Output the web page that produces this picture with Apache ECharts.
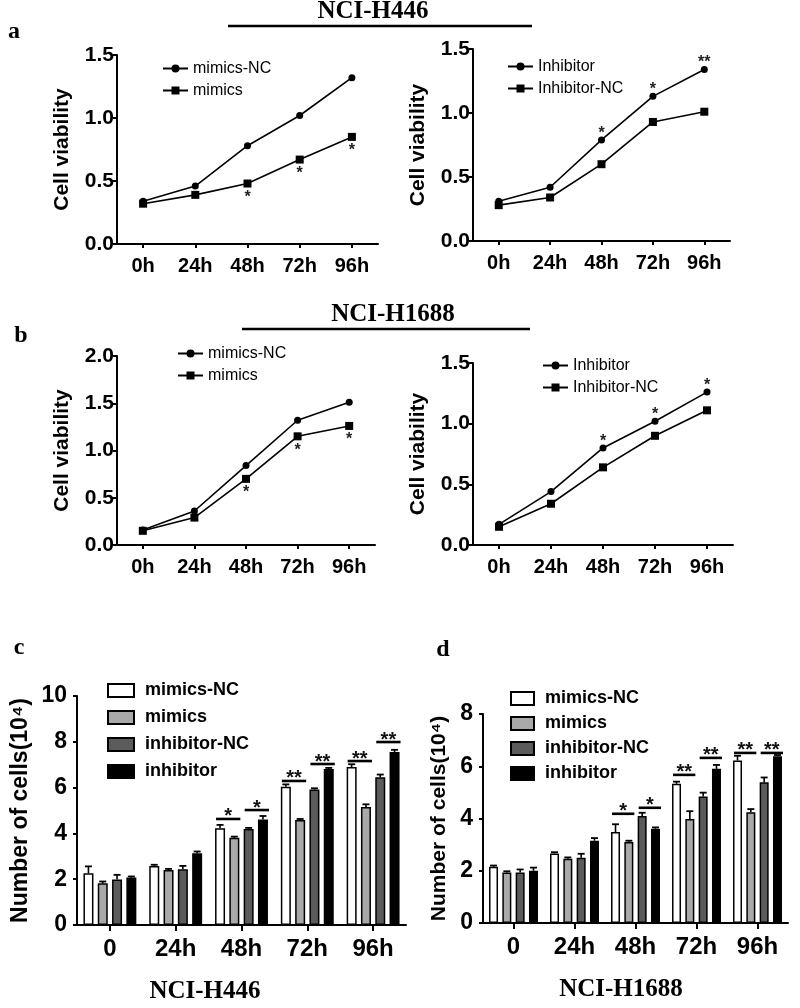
<!DOCTYPE html>
<html><head><meta charset="utf-8">
<script src="https://cdn.jsdelivr.net/npm/echarts/dist/echarts.min.js"></script>
<style>html,body{margin:0;padding:0;background:#fff;}#chart{width:800px;height:1008px;}</style>
</head><body><div id="chart"></div>
<script>
// ---------- data ----------
const hours = ['0h', '24h', '48h', '72h', '96h'];
// panel a (NCI-H446)
const aMimicsNC = [0.34, 0.46, 0.78, 1.02, 1.32];
const aMimics = [0.32, 0.39, 0.48, 0.67, 0.85];
const aMimicsSig = ['', '', '*', '*', '*'];
const aInhibitor = [0.31, 0.42, 0.79, 1.13, 1.34];
const aInhibitorNC = [0.28, 0.34, 0.60, 0.93, 1.01];
const aInhibitorSig = ['', '', '*', '*', '**'];
// panel b (NCI-H1688)
const bMimicsNC = [0.16, 0.36, 0.84, 1.32, 1.51];
const bMimics = [0.15, 0.29, 0.70, 1.15, 1.26];
const bMimicsSig = ['', '', '*', '*', '*'];
const bInhibitor = [0.17, 0.44, 0.80, 1.02, 1.26];
const bInhibitorNC = [0.15, 0.34, 0.64, 0.90, 1.11];
const bInhibitorSig = ['', '', '*', '*', '*'];
// panels c, d (cell numbers, 10^4)
const barCats = ['0', '24h', '48h', '72h', '96h'];
const barNames = ['mimics-NC', 'mimics', 'inhibitor-NC', 'inhibitor'];
const cMimicsNC = [2.26, 2.58, 4.22, 6.04, 6.90];
const cMimics = [1.82, 2.40, 3.81, 4.58, 5.15];
const cInhibitorNC = [1.99, 2.43, 4.19, 5.92, 6.45];
const cInhibitor = [2.07, 3.13, 4.61, 6.81, 7.55];
const cErrMimicsNC = [0.30, 0.05, 0.15, 0.10, 0.12];
const cErrMimics = [0.08, 0.05, 0.05, 0.05, 0.12];
const cErrInhibitorNC = [0.20, 0.15, 0.05, 0.05, 0.12];
const cErrInhibitor = [0.05, 0.08, 0.15, 0.05, 0.10];
const cSigMimics = ['', '', '*', '**', '**'];
const cSigMimicsY = [0, 0, 4.63, 6.29, 7.16];
const cSigInhibitor = ['', '', '*', '**', '**'];
const cSigInhibitorY = [0, 0, 5.02, 7.03, 7.99];
const dMimicsNC = [2.15, 2.66, 3.48, 5.33, 6.22];
const dMimics = [1.93, 2.46, 3.10, 3.98, 4.24];
const dInhibitorNC = [1.93, 2.50, 4.10, 4.84, 5.39];
const dInhibitor = [2.00, 3.15, 3.61, 5.90, 6.38];
const dErrMimicsNC = [0.05, 0.05, 0.30, 0.08, 0.18];
const dErrMimics = [0.05, 0.05, 0.05, 0.30, 0.12];
const dErrInhibitorNC = [0.12, 0.15, 0.12, 0.15, 0.18];
const dErrInhibitor = [0.12, 0.10, 0.05, 0.15, 0.05];
const dSigMimics = ['', '', '*', '**', '**'];
const dSigMimicsY = [0, 0, 4.18, 5.67, 6.51];
const dSigInhibitor = ['', '', '*', '**', '**'];
const dSigInhibitorY = [0, 0, 4.41, 6.32, 6.51];

// ---------- styling ----------
const SANS = 'Liberation Sans, Arial, sans-serif';
const SERIF = 'Liberation Serif, Times New Roman, serif';
const BLACK = '#000';
const barColors = ['#ffffff', '#a9a9a9', '#5b5b5b', '#000000'];

const grids = [
  {left: 117, top: 55, width: 261, height: 189},
  {left: 473, top: 49, width: 257, height: 192},
  {left: 117, top: 356, width: 258, height: 189},
  {left: 473, top: 363, width: 260, height: 182},
  {left: 77, top: 696, width: 329, height: 229},
  {left: 483, top: 714, width: 305, height: 209}
];

function xAxis(gi, cats, fs, margin, tickLen) {
  return {
    type: 'category', gridIndex: gi, data: cats, boundaryGap: true,
    axisLine: {lineStyle: {color: BLACK, width: 2}},
    axisTick: {show: true, alignWithLabel: true, length: tickLen, lineStyle: {color: BLACK, width: 2}},
    axisLabel: {color: BLACK, fontFamily: SANS, fontWeight: 'bold', fontSize: fs, margin: margin}
  };
}
function yAxis(gi, max, interval, dec, fs, name, nameFs, nameGap, margin) {
  return {
    type: 'value', gridIndex: gi, min: 0, max: max, interval: interval,
    name: name, nameLocation: 'middle', nameGap: nameGap,
    nameTextStyle: {color: BLACK, fontFamily: SANS, fontWeight: 'bold', fontSize: nameFs},
    axisLine: {show: true, lineStyle: {color: BLACK, width: 2}},
    axisTick: {show: true, length: 4, lineStyle: {color: BLACK, width: 2}},
    splitLine: {show: false},
    axisLabel: {color: BLACK, fontFamily: SANS, fontWeight: 'bold', fontSize: fs, margin: margin,
      formatter: v => v.toFixed(dec)}
  };
}
function lineSeries(name, gi, data, symbol, size, sig, pos) {
  return {
    type: 'line', name: name, xAxisIndex: gi, yAxisIndex: gi, data: data,
    symbol: symbol, symbolSize: size, color: BLACK,
    lineStyle: {color: BLACK, width: 1.6}, itemStyle: {color: BLACK},
    label: sig ? {
      show: true, position: pos, distance: pos === 'bottom' ? 2 : -5,
      color: '#222', fontFamily: SANS, fontSize: 16, fontWeight: 'bold',
      formatter: p => sig[p.dataIndex]
    } : {show: false},
    z: 3
  };
}
function barSeries(name, gi, data, color, bw, gap) {
  return {
    type: 'bar', name: name, xAxisIndex: gi, yAxisIndex: gi, data: data,
    barWidth: bw, barGap: (gap * 100) + '%',
    itemStyle: {color: color, borderColor: BLACK, borderWidth: 1.5},
    z: 2
  };
}
function errSeries(gi, vals, errs, bw, gap) {
  const data = [];
  vals.forEach((arr, s) => arr.forEach((v, i) => data.push([i, v, errs[s][i], s])));
  const n = vals.length;
  return {
    type: 'custom', xAxisIndex: gi, yAxisIndex: gi, data: data, z: 4, silent: true,
    renderItem: (params, api) => {
      const i = api.value(0), v = api.value(1), e = api.value(2), s = api.value(3);
      const p0 = api.coord([i, v]), p1 = api.coord([i, v + e]);
      const g = bw * gap, total = n * bw + (n - 1) * g;
      const x = p0[0] - total / 2 + s * (bw + g) + bw / 2;
      return {type: 'group', children: [
        {type: 'line', shape: {x1: x, y1: p0[1], x2: x, y2: p1[1]}, style: {stroke: BLACK, lineWidth: 1.6}},
        {type: 'line', shape: {x1: x - 3.5, y1: p1[1], x2: x + 3.5, y2: p1[1]}, style: {stroke: BLACK, lineWidth: 1.8}}
      ]};
    }
  };
}
function sigSeries(gi, texts, ys, pairStart, nBars, bw, gap) {
  const data = [], labels = [];
  texts.forEach((t, i) => { if (t) { data.push([i, ys[i]]); labels.push(t); } });
  return {
    type: 'custom', xAxisIndex: gi, yAxisIndex: gi, data: data, z: 5, silent: true,
    renderItem: (params, api) => {
      const p = api.coord([api.value(0), api.value(1)]);
      const g = bw * gap, total = nBars * bw + (nBars - 1) * g;
      const xA = p[0] - total / 2 + pairStart * (bw + g) + 1;
      const xB = xA + 2 * bw + g;
      return {type: 'group', children: [
        {type: 'line', shape: {x1: xA, y1: p[1], x2: xB, y2: p[1]}, style: {stroke: BLACK, lineWidth: 2.6}},
        {type: 'text', x: (xA + xB) / 2, y: p[1] + 8,
          style: {text: labels[params.dataIndex], fill: '#111', font: 'bold 20px ' + SANS,
            textAlign: 'center', textVerticalAlign: 'bottom'}}
      ]};
    }
  };
}
function lineLegend(names, left, top) {
  return {
    data: names, left: left, top: top, orient: 'vertical', selectedMode: false,
    itemWidth: 25, itemHeight: 10, itemGap: 5,
    formatter: n => n.split(':')[1],
    textStyle: {color: BLACK, fontFamily: SANS, fontSize: 16, lineHeight: 17}
  };
}
function barLegend(names, left, top, w, h, gap, fs) {
  return {
    data: names, left: left, top: top, orient: 'vertical', selectedMode: false, icon: 'rect',
    itemWidth: w, itemHeight: h, itemGap: gap,
    formatter: n => n.split(':')[1],
    textStyle: {color: BLACK, fontFamily: SANS, fontSize: fs, fontWeight: 'bold', lineHeight: fs + 1, padding: [0, 0, 0, 6]}
  };
}

const BWC = 10, GAPC = 0.43, BWD = 9, GAPD = 0.48;
const cVals = [cMimicsNC, cMimics, cInhibitorNC, cInhibitor];
const cErrs = [cErrMimicsNC, cErrMimics, cErrInhibitorNC, cErrInhibitor];
const dVals = [dMimicsNC, dMimics, dInhibitorNC, dInhibitor];
const dErrs = [dErrMimicsNC, dErrMimics, dErrInhibitorNC, dErrInhibitor];

const series = [
  lineSeries('aL:mimics-NC', 0, aMimicsNC, 'circle', 7, null),
  lineSeries('aL:mimics', 0, aMimics, 'rect', 8, aMimicsSig, 'bottom'),
  lineSeries('aR:Inhibitor', 1, aInhibitor, 'circle', 7, aInhibitorSig, 'top'),
  lineSeries('aR:Inhibitor-NC', 1, aInhibitorNC, 'rect', 8, null),
  lineSeries('bL:mimics-NC', 2, bMimicsNC, 'circle', 7, null),
  lineSeries('bL:mimics', 2, bMimics, 'rect', 8, bMimicsSig, 'bottom'),
  lineSeries('bR:Inhibitor', 3, bInhibitor, 'circle', 7, bInhibitorSig, 'top'),
  lineSeries('bR:Inhibitor-NC', 3, bInhibitorNC, 'rect', 8, null)
];
barNames.forEach((n, s) => series.push(barSeries('c:' + n, 4, cVals[s], barColors[s], BWC, GAPC)));
barNames.forEach((n, s) => series.push(barSeries('d:' + n, 5, dVals[s], barColors[s], BWD, GAPD)));
series.push(errSeries(4, cVals, cErrs, BWC, GAPC));
series.push(errSeries(5, dVals, dErrs, BWD, GAPD));
series.push(sigSeries(4, cSigMimics, cSigMimicsY, 0, 4, BWC, GAPC));
series.push(sigSeries(4, cSigInhibitor, cSigInhibitorY, 2, 4, BWC, GAPC));
series.push(sigSeries(5, dSigMimics, dSigMimicsY, 0, 4, BWD, GAPD));
series.push(sigSeries(5, dSigInhibitor, dSigInhibitorY, 2, 4, BWD, GAPD));

function txt(text, x, y, font) {
  return {type: 'text', x: x, y: y, style: {text: text, fill: BLACK, font: font, textAlign: 'center', textVerticalAlign: 'middle'}};
}
function hline(x1, x2, y) {
  return {type: 'line', shape: {x1: x1, y1: y, x2: x2, y2: y}, style: {stroke: BLACK, lineWidth: 2.5}};
}

const option = {
  animation: false,
  backgroundColor: '#fff',
  grid: grids,
  xAxis: [
    xAxis(0, hours, 20, 12, 4), xAxis(1, hours, 20, 12, 4),
    xAxis(2, hours, 20, 12, 4), xAxis(3, hours, 20, 12, 4),
    xAxis(4, barCats, 24, 12, 6), xAxis(5, barCats, 24, 12, 6)
  ],
  yAxis: [
    yAxis(0, 1.5, 0.5, 1, 21, 'Cell viability', 21, 44, 3),
    yAxis(1, 1.5, 0.5, 1, 21, 'Cell viability', 21, 44, 3),
    yAxis(2, 2.0, 0.5, 1, 21, 'Cell viability', 21, 44, 3),
    yAxis(3, 1.5, 0.5, 1, 21, 'Cell viability', 21, 44, 3),
    yAxis(4, 10, 2, 0, 23, 'Number of cells(10\u2074)', 23, 45, 10),
    yAxis(5, 8, 2, 0, 23, 'Number of cells(10\u2074)', 21, 33, 10)
  ],
  legend: [
    lineLegend(['aL:mimics-NC', 'aL:mimics'], 157, 55),
    lineLegend(['aR:Inhibitor', 'aR:Inhibitor-NC'], 502, 53),
    lineLegend(['bL:mimics-NC', 'bL:mimics'], 172, 340),
    lineLegend(['bR:Inhibitor', 'bR:Inhibitor-NC'], 537, 352),
    barLegend(barNames.map(n => 'c:' + n), 102, 676, 26, 13, 8, 18),
    barLegend(barNames.map(n => 'd:' + n), 505, 684, 23, 13, 6, 18)
  ],
  graphic: [
    txt('NCI-H446', 373, 12, 'bold 25px ' + SERIF),
    hline(228, 532, 26),
    txt('NCI-H1688', 393, 315, 'bold 25px ' + SERIF),
    hline(242, 530, 329),
    txt('a', 14, 32, 'bold 24px ' + SERIF),
    txt('b', 21, 336, 'bold 24px ' + SERIF),
    txt('c', 19, 648, 'bold 24px ' + SERIF),
    txt('d', 443, 650, 'bold 24px ' + SERIF),
    txt('NCI-H446', 205, 992, 'bold 25px ' + SERIF),
    txt('NCI-H1688', 621, 990, 'bold 25px ' + SERIF)
  ],
  series: series
};
const chart = echarts.init(document.getElementById('chart'), null, {renderer: 'canvas'});
chart.setOption(option);
</script></body></html>
